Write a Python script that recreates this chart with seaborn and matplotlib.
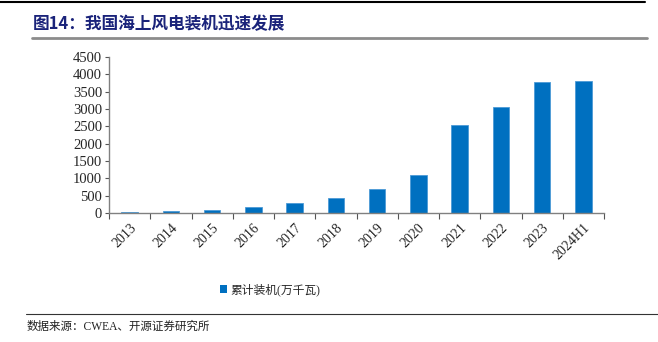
import matplotlib
matplotlib.use("Agg")
import matplotlib.pyplot as plt
from matplotlib.lines import Line2D
from matplotlib.patches import Patch
import seaborn as sns
import pandas as pd

# Cumulative offshore wind installed capacity in China (10k kW)
years = ["2013", "2014", "2015", "2016", "2017", "2018", "2019", "2020",
         "2021", "2022", "2023", "2024H1"]
capacity = [43, 66, 102, 163, 279, 445, 703, 1089, 2535, 3051, 3769, 3817]
y_ticks = [0, 500, 1000, 1500, 2000, 2500, 3000, 3500, 4000, 4500]

series_name = "累计装机(万千瓦)"
title_text = "图14：我国海上风电装机迅速发展"
source_text = "数据来源：CWEA、开源证券研究所"

sns.set_theme(style="white")
plt.rcParams["font.family"] = ["Liberation Serif", "Noto Sans CJK SC"]

df = pd.DataFrame({"year": years, "capacity": capacity})

fig = plt.figure(figsize=(6.58, 3.42), dpi=100)
ax = fig.add_axes([0.1657, 0.377, 0.918 - 0.1657, 0.833 - 0.377])

sns.barplot(data=df, x="year", y="capacity", color="#0070C0", width=0.4,
            saturation=1, edgecolor="#4C9AD6", linewidth=0.6, ax=ax)

ax.set_xlim(-0.5, len(years) - 0.5)
ax.set_ylim(0, 4500)
ax.set_yticks(y_ticks)
ax.set_yticklabels([str(v) for v in y_ticks], fontsize=10.5)
ax.set_xticks(range(len(years)))
ax.set_xticklabels(years, rotation=45, ha="right", rotation_mode="anchor",
                   fontsize=10)
ax.set_xticks([i + 0.5 for i in range(-1, len(years))], minor=True)
ax.tick_params(axis="x", which="major", length=0, pad=6)
ax.tick_params(axis="x", which="minor", length=4, width=0.8, color="#555555",
               direction="out", bottom=True)
ax.tick_params(axis="y", which="major", length=3, width=0.8, color="#555555",
               direction="out", left=True, pad=2)
ax.set_xlabel("")
ax.set_ylabel("")

for side in ["top", "right"]:
    ax.spines[side].set_visible(False)
for side in ["left", "bottom"]:
    ax.spines[side].set_color("#808080")
    ax.spines[side].set_linewidth(1.0)

# Title and rules
fig.text(33 / 658, 1 - 24 / 342, title_text, fontsize=12, fontweight="bold",
         color="#1A237A", va="center", ha="left",
         family=["Noto Sans CJK SC", "Liberation Serif"])
fig.add_artist(Line2D([0, 645 / 658], [1 - 2 / 342, 1 - 2 / 342],
                      color="black", linewidth=1.5, transform=fig.transFigure))
fig.add_artist(Line2D([32 / 658, 647 / 658], [1 - 37.5 / 342, 1 - 37.5 / 342],
                      color="#8C8C8C", linewidth=2.0, transform=fig.transFigure))
fig.add_artist(Line2D([26 / 658, 1.0], [1 - 314 / 342, 1 - 314 / 342],
                      color="#333333", linewidth=0.8, transform=fig.transFigure))

# Legend
handle = Patch(facecolor="#0070C0", edgecolor="none", label=series_name)
fig.legend(handles=[handle], loc="center", bbox_to_anchor=(270 / 658, 1 - 290 / 342),
           frameon=False, handlelength=0.6, handleheight=0.6,
           handletextpad=0.3, prop={"family": ["Liberation Serif", "Noto Sans CJK SC"],
                                    "size": 8.5})

fig.text(27 / 658, 1 - 327 / 342, source_text, fontsize=8.3, color="#222222",
         va="center", ha="left", family=["Liberation Serif", "Noto Sans CJK SC"])

fig.savefig("out.png", dpi=100)
